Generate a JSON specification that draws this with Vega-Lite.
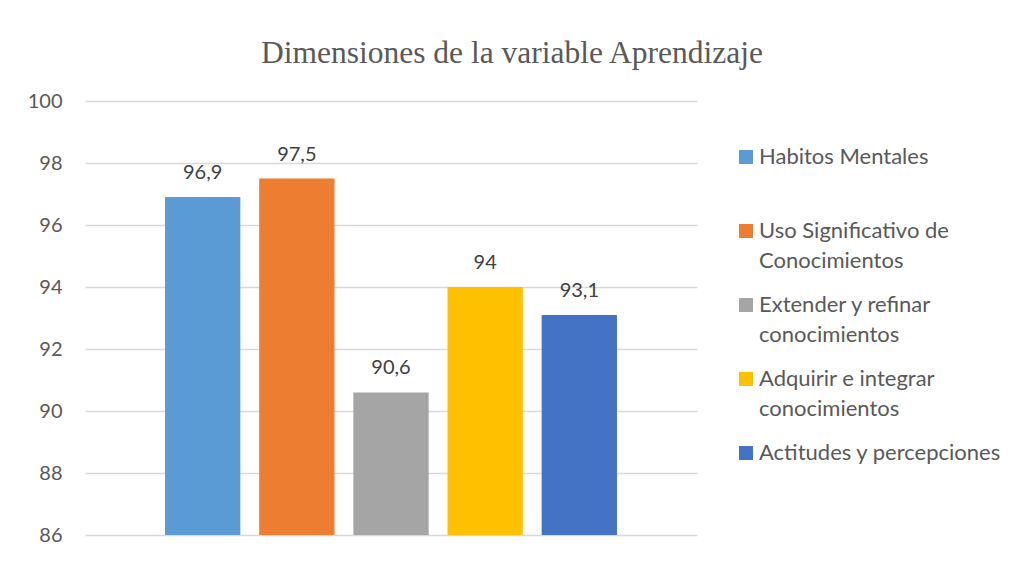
{
  "$schema": "https://vega.github.io/schema/vega-lite/v6.json",
  "autosize": {"type": "none"},
  "width": 612,
  "height": 434,
  "padding": {"left": 85, "top": 101, "right": 317, "bottom": 26},
  "background": "white",
  "title": {
    "text": "Dimensiones de la variable Aprendizaje",
    "font": "Liberation Serif",
    "fontSize": 31.5,
    "fontWeight": "normal",
    "color": "#595959",
    "anchor": "middle",
    "frame": "group",
    "dx": 121,
    "baseline": "alphabetic",
    "offset": -3
  },
  "data": {
    "values": [
      {"dimension": "Habitos Mentales", "valor": 96.9},
      {"dimension": "Uso Significativo de Conocimientos", "valor": 97.5},
      {"dimension": "Extender y refinar conocimientos", "valor": 90.6},
      {"dimension": "Adquirir e integrar conocimientos", "valor": 94},
      {"dimension": "Actitudes y percepciones", "valor": 93.1}
    ]
  },
  "encoding": {
    "x": {
      "field": "dimension",
      "type": "nominal",
      "sort": null,
      "axis": null,
      "scale": {"paddingInner": 0.2, "paddingOuter": 0.85}
    },
    "y": {
      "field": "valor",
      "type": "quantitative",
      "scale": {"domain": [86, 100], "zero": false, "nice": false},
      "axis": {
        "title": null,
        "values": [86, 88, 90, 92, 94, 96, 98, 100],
        "domain": false,
        "ticks": false,
        "grid": true,
        "gridColor": "#D9D9D9",
        "gridWidth": 1.3,
        "labelFont": "Lato",
        "labelFontSize": 20,
        "labelColor": "#595959",
        "labelPadding": 23
      }
    }
  },
  "layer": [
    {
      "mark": {"type": "bar", "clip": true},
      "encoding": {
        "color": {
          "field": "dimension",
          "type": "nominal",
          "scale": {
            "domain": ["Habitos Mentales", "Uso Significativo de Conocimientos", "Extender y refinar conocimientos", "Adquirir e integrar conocimientos", "Actitudes y percepciones"],
            "range": ["#5B9BD5", "#ED7D31", "#A5A5A5", "#FFC000", "#4472C4"]
          },
          "legend": {
            "title": null,
            "orient": "none",
            "legendX": 650,
            "legendY": 45,
            "symbolType": "square",
            "symbolSize": 196,
            "symbolStrokeWidth": 0,
            "symbolOpacity": 1,
            "labelFont": "Lato",
            "labelFontSize": 22,
            "labelColor": "#595959",
            "labelOffset": 2,
            "labelLimit": 400,
            "labelBaseline": "middle",
            "rowPadding": 22,
            "labelExpr": "datum.label == 'Habitos Mentales' ? ['Habitos Mentales', ' '] : datum.label == 'Uso Significativo de Conocimientos' ? ['Uso Significativo de', 'Conocimientos'] : datum.label == 'Extender y refinar conocimientos' ? ['Extender y refinar', 'conocimientos'] : datum.label == 'Adquirir e integrar conocimientos' ? ['Adquirir e integrar', 'conocimientos'] : [datum.label, ' ']"
          }
        }
      }
    },
    {
      "mark": {
        "type": "text",
        "baseline": "alphabetic",
        "dy": -18,
        "font": "Lato",
        "fontSize": 20,
        "color": "#404040"
      },
      "encoding": {
        "text": {"field": "valor", "type": "quantitative", "format": ".1~f"}
      }
    }
  ],
  "config": {
    "view": {"stroke": null},
    "locale": {
      "number": {"decimal": ",", "thousands": ".", "grouping": [3], "currency": ["", " €"]}
    },
    "style": {"guide-label": {"lineHeight": 30}}
  }
}
